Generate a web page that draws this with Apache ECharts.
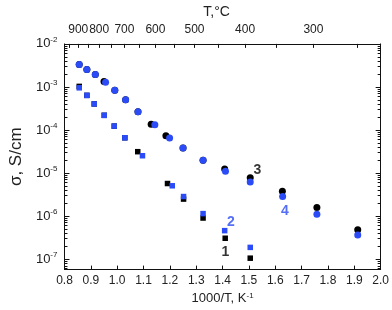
<!DOCTYPE html>
<html><head><meta charset="utf-8">
<script src="https://cdn.jsdelivr.net/npm/echarts@6/dist/echarts.min.js"></script>
<style>html,body{margin:0;padding:0;background:#fff}#c{width:392px;height:310px}</style>
</head><body><div id="c"></div>
<script>
// ---- data ----
const s1x = [0.856,0.885,0.913,0.951,0.989,1.029,1.078,1.191,1.252,1.326,1.410,1.505];
const s1y = [1.03e-3,6.37e-4,4.03e-4,2.19e-4,1.23e-4,6.59e-5,3.13e-5,5.70e-6,2.48e-6,9.0e-7,3.05e-7,1.05e-7];
const s2x = [0.856,0.885,0.913,0.951,0.989,1.029,1.096,1.209,1.252,1.326,1.408,1.505];
const s2y = [9.55e-4,6.37e-4,4.03e-4,2.19e-4,1.23e-4,6.59e-5,2.52e-5,5.05e-6,2.84e-6,1.14e-6,4.58e-7,1.87e-7];
const s3x = [0.856,0.885,0.917,0.950,0.991,1.032,1.079,1.129,1.185,1.250,1.326,1.408,1.505,1.627,1.758,1.913];
const s3y = [3.33e-3,2.54e-3,1.94e-3,1.34e-3,8.34e-4,5.01e-4,2.64e-4,1.36e-4,7.30e-5,3.83e-5,1.98e-5,1.24e-5,7.73e-6,3.79e-6,1.57e-6,4.82e-7];
const s4x = [0.856,0.885,0.917,0.956,0.991,1.032,1.079,1.143,1.199,1.250,1.326,1.411,1.505,1.628,1.758,1.913];
const s4y = [3.33e-3,2.54e-3,1.94e-3,1.29e-3,8.34e-4,5.01e-4,2.64e-4,1.32e-4,6.50e-5,3.83e-5,1.98e-5,1.10e-5,6.18e-6,2.84e-6,1.10e-6,3.61e-7];
const seriesLabels = [["1",1.411,1.43e-7],["2",1.432,7.1e-7],["3",1.532,1.16e-5],["4",1.637,1.28e-6]];
const labelColors = ["#000000","#2a4bf5","#000000","#2a4bf5"];
const xTicks = [0.8,0.9,1.0,1.1,1.2,1.3,1.4,1.5,1.6,1.7,1.8,1.9,2.0];
const tMajor = [900,800,700,600,500,400,300];
const tMinor = [950,850,750,650,550,450,350,250];
const yMajor = [1e-7,1e-6,1e-5,1e-4,1e-3,1e-2];
// ---- build ----
const FONT = "'Liberation Sans', Arial, sans-serif";
const toInv = t => 1000/(t+273.15);
const yMinor = [];
for (let e=-8;e<=-3;e++) for (let m=2;m<=9;m++) { const v=m*Math.pow(10,e); if (v>=5.7e-8 && v<=1e-2) yMinor.push(v); }
const zip = (a,b)=>a.map((v,i)=>[v,b[i]]);
const chart = echarts.init(document.getElementById('c'), null, {renderer:'canvas'});
const axisLineStyle = {color:'#111', width:1};
const yBase = {type:'log', min:5.7e-8, max:1e-2, logBase:10, splitLine:{show:false}, axisLine:{show:true, lineStyle:axisLineStyle}};
const option = {
  animation:false,
  grid:{left:54, right:10, top:34, bottom:38, containLabel:false},
  xAxis:[
    {type:'value', min:0.8, max:2.0, interval:0.1, position:'bottom',
     axisLine:{lineStyle:axisLineStyle}, splitLine:{show:false},
     axisTick:{inside:true, length:4, lineStyle:axisLineStyle, customValues:xTicks},
     axisLabel:{customValues:xTicks, formatter:v=>v.toFixed(1), color:'#222', fontSize:12, fontFamily:FONT, margin:5},
     name:'{a|1000/T, K}{s|-1}', nameLocation:'middle', nameGap:21,
     nameTextStyle:{rich:{a:{fontSize:13, fontFamily:FONT, color:'#222'}, s:{fontSize:8, fontFamily:FONT, color:'#222', verticalAlign:'top', padding:[0,0,6,0]}}}},
    {type:'value', min:0.8, max:2.0, position:'top',
     axisLine:{lineStyle:axisLineStyle}, splitLine:{show:false},
     axisTick:{inside:true, length:4, lineStyle:axisLineStyle, customValues:tMajor.concat(tMinor).map(toInv)},
     axisLabel:{customValues:tMajor.map(toInv), formatter:v=>String(Math.round((1000/v-273.15)/10)*10), color:'#222', fontSize:12, fontFamily:FONT, margin:8},
     name:'T,°C', nameLocation:'middle', nameGap:24,
     nameTextStyle:{fontSize:14, fontFamily:FONT, color:'#222', padding:[0,12,0,0]}}
  ],
  yAxis:[
    Object.assign({}, yBase, {position:'left',
      axisTick:{inside:true, length:5, lineStyle:axisLineStyle, customValues:yMajor},
      axisLabel:{customValues:yMajor, margin:7, color:'#222', fontFamily:FONT,
        formatter:v=>'{b|10}{s|'+Math.round(Math.log10(v))+'}',
        rich:{b:{fontSize:13, fontFamily:FONT, color:'#222'}, s:{fontSize:8, fontFamily:FONT, color:'#222', verticalAlign:'top', padding:[0,0,8,0]}}},
      name:'σ, S/cm', nameLocation:'middle', nameGap:36, nameRotate:90,
      nameTextStyle:{fontSize:17, fontFamily:FONT, color:'#222'}}),
    Object.assign({}, yBase, {position:'left', axisLine:{show:false},
      axisTick:{inside:true, length:3, lineStyle:axisLineStyle, customValues:yMinor},
      axisLabel:{show:false}}),
    Object.assign({}, yBase, {position:'right',
      axisTick:{inside:true, length:5, lineStyle:axisLineStyle, customValues:yMajor},
      axisLabel:{show:false}}),
    Object.assign({}, yBase, {position:'right', axisLine:{show:false},
      axisTick:{inside:true, length:3, lineStyle:axisLineStyle, customValues:yMinor},
      axisLabel:{show:false}})
  ],
  series:[
    {type:'scatter', name:'1', symbol:'rect', symbolSize:5.5, itemStyle:{color:'#000', opacity:1}, data:zip(s1x,s1y), z:2},
    {type:'scatter', name:'2', symbol:'rect', symbolSize:5.5, itemStyle:{color:'#2a4bf5', opacity:1}, data:zip(s2x,s2y), z:3},
    {type:'scatter', name:'3', symbol:'circle', symbolSize:7, itemStyle:{color:'#000', opacity:1}, data:zip(s3x,s3y), z:4},
    {type:'scatter', name:'4', symbol:'circle', symbolSize:7, itemStyle:{color:'#2a4bf5', opacity:1}, data:zip(s4x,s4y), z:5},
    {type:'scatter', symbolSize:0, z:6, silent:true,
     data:seriesLabels.map((d,i)=>({value:[d[1],d[2]], label:{show:true, position:'inside', formatter:d[0], color:labelColors[i], fontSize:14, fontWeight:'bold', fontFamily:FONT}}))}
  ]
};
chart.setOption(option);
</script>
</body></html>
